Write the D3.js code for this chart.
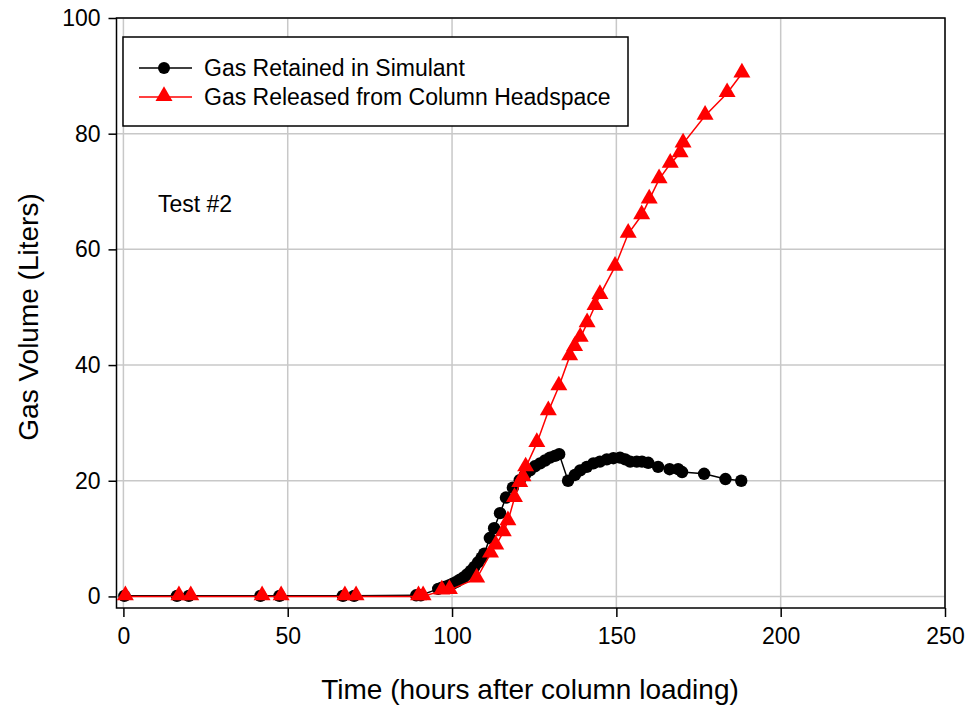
<!DOCTYPE html>
<html>
<head>
<meta charset="utf-8">
<script src="https://cdn.jsdelivr.net/npm/d3@7"></script>
<style>
  body { margin: 0; background: #fff; }
  svg text { font-family: "Liberation Sans", Arial, sans-serif; fill: #000; }
</style>
</head>
<body>
<svg id="chart" width="969" height="711"></svg>
<script>
// Gas retained in simulant (hours, liters)
var retainedTime = [0.3, 16.3, 19.9, 41.7, 47.5, 66.8, 70.2, 89.1, 90.5,
    95.8, 96.9, 98.0, 99.1, 100.2, 101.3, 102.4, 103.5, 104.6, 105.7, 106.8, 107.9, 109.0, 109.8,
    111.5, 112.8, 114.6, 116.4, 118.5, 120.6, 122.2, 123.7, 125.2, 126.8, 128.3, 129.8, 131.3, 132.6,
    135.3, 137.4, 139.0, 141.0, 143.0, 145.0, 147.1, 149.1, 151.1, 152.7, 154.2, 156.2, 157.8, 159.7,
    162.7, 166.2, 168.8, 170.0, 176.7, 183.2, 188.0];
var retainedGas = [0.1, 0.1, 0.1, 0.1, 0.1, 0.1, 0.1, 0.2, 0.2,
    1.3, 1.5, 1.7, 1.9, 2.2, 2.5, 2.9, 3.3, 3.8, 4.4, 5.1, 5.9, 6.7, 7.4,
    10.1, 11.8, 14.4, 17.1, 18.8, 20.1, 21.0, 21.8, 22.5, 23.0, 23.5, 24.0, 24.3, 24.6,
    20.0, 21.0, 21.8, 22.4, 23.0, 23.3, 23.7, 23.9, 24.0, 23.7, 23.3, 23.3, 23.3, 23.1,
    22.4, 22.0, 22.0, 21.5, 21.2, 20.3, 20.0];

// Gas released from column headspace (hours, liters)
var releasedTime = [0.6, 16.9, 20.5, 42.2, 48.0, 67.4, 70.8, 89.8, 91.2,
    96.9, 99.2, 107.5, 111.7, 113.3, 115.6, 117.0, 119.0, 120.6, 121.6, 122.4, 125.8, 129.3, 132.5,
    135.8, 137.3, 139.0, 141.1, 143.5, 145.0, 149.6, 153.6, 157.7, 160.0, 163.0, 166.4, 169.4, 170.3,
    177.0, 183.7, 188.2];
var releasedGas = [0, 0, 0, 0, 0, 0, 0, 0, 0,
    1.0, 1.1, 3.1, 7.4, 8.8, 11.1, 13.0, 17.0, 19.6, 20.6, 22.3, 26.5, 32.0, 36.3,
    41.5, 43.1, 44.7, 47.2, 50.2, 52.1, 57.0, 62.7, 65.9, 68.6, 72.1, 74.8, 76.6, 78.3,
    83.1, 87.0, 90.4];

var xTicks = [0, 50, 100, 150, 200, 250];
var yTicks = [0, 20, 40, 60, 80, 100];
var seriesNames = ["Gas Retained in Simulant", "Gas Released from Column Headspace"];

var svg = d3.select("#chart");
var plotLeft = 116.5, plotRight = 945, plotTop = 18, plotBottom = 608;

var x = d3.scaleLinear().domain([-2.1, 250]).range([plotLeft, plotRight]);
var y = d3.scaleLinear().domain([-2, 100]).range([plotBottom, plotTop]);

// grid
var grid = svg.append("g");
grid.selectAll(".vg").data(xTicks).enter().append("line")
    .attr("x1", function(d) { return x(d); }).attr("x2", function(d) { return x(d); })
    .attr("y1", plotTop).attr("y2", plotBottom)
    .attr("stroke", "#c8c8c8").attr("stroke-width", 1.5);
grid.selectAll(".hg").data(yTicks).enter().append("line")
    .attr("y1", function(d) { return y(d); }).attr("y2", function(d) { return y(d); })
    .attr("x1", plotLeft).attr("x2", plotRight)
    .attr("stroke", "#c8c8c8").attr("stroke-width", 1.5);

// frame
svg.append("rect").attr("x", plotLeft).attr("y", plotTop)
    .attr("width", plotRight - plotLeft).attr("height", plotBottom - plotTop)
    .attr("fill", "none").attr("stroke", "#000").attr("stroke-width", 1.5);

// axes
var xAxis = svg.append("g").attr("transform", "translate(0," + plotBottom + ")")
    .call(d3.axisBottom(x).tickValues(xTicks).tickSize(9).tickPadding(11));
var yAxis = svg.append("g").attr("transform", "translate(" + plotLeft + ",0)")
    .call(d3.axisLeft(y).tickValues(yTicks).tickSize(8).tickPadding(8));
[xAxis, yAxis].forEach(function(a) {
    a.select(".domain").remove();
    a.selectAll("line").attr("stroke", "#000").attr("stroke-width", 1.5);
    a.selectAll("text").attr("font-size", null).style("font-size", "23px")
        .style("font-family", "Liberation Sans, Arial, sans-serif");
});

// axis titles
svg.append("text").attr("x", 530).attr("y", 699).attr("text-anchor", "middle")
    .style("font-size", "28px").text("Time (hours after column loading)");
svg.append("text").attr("transform", "translate(38,317) rotate(-90)").attr("text-anchor", "middle")
    .style("font-size", "28px").text("Gas Volume (Liters)");

svg.append("text").attr("x", 158).attr("y", 212).style("font-size", "23px").text("Test #2");

var retained = retainedTime.map(function(t, i) { return [t, retainedGas[i]]; });
var released = releasedTime.map(function(t, i) { return [t, releasedGas[i]]; });
var line = d3.line().x(function(d) { return x(d[0]); }).y(function(d) { return y(d[1]); });
var tri = d3.symbol().type(d3.symbolTriangle).size(125);

// retained series
svg.append("path").datum(retained).attr("d", line)
    .attr("fill", "none").attr("stroke", "#000").attr("stroke-width", 1.5);
svg.selectAll(".dot").data(retained).enter().append("circle")
    .attr("cx", function(d) { return x(d[0]); })
    .attr("cy", function(d) { return y(d[1]); })
    .attr("r", 6.2).attr("fill", "#000");

// released series
svg.append("path").datum(released).attr("d", line)
    .attr("fill", "none").attr("stroke", "#ff0000").attr("stroke-width", 1.5);
svg.selectAll(".tri").data(released).enter().append("path")
    .attr("d", tri)
    .attr("transform", function(d) { return "translate(" + x(d[0]) + "," + (y(d[1]) - 1) + ")"; })
    .attr("fill", "#ff0000");

// legend
var lg = svg.append("g");
lg.append("rect").attr("x", 123).attr("y", 37).attr("width", 505).attr("height", 89)
    .attr("fill", "#fff").attr("stroke", "#000").attr("stroke-width", 1.5);
seriesNames.forEach(function(name, i) {
    var cy = 68 + i * 29;
    lg.append("line").attr("x1", 139).attr("x2", 192).attr("y1", cy).attr("y2", cy)
        .attr("stroke", i === 0 ? "#000" : "#ff0000").attr("stroke-width", 1.5);
    if (i === 0) {
        lg.append("circle").attr("cx", 164).attr("cy", cy).attr("r", 6).attr("fill", "#000");
    } else {
        lg.append("path").attr("d", tri).attr("transform", "translate(164," + (cy - 1) + ")").attr("fill", "#ff0000");
    }
    lg.append("text").attr("x", 204).attr("y", cy + 8).style("font-size", "23px").text(name);
});
</script>
</body>
</html>
